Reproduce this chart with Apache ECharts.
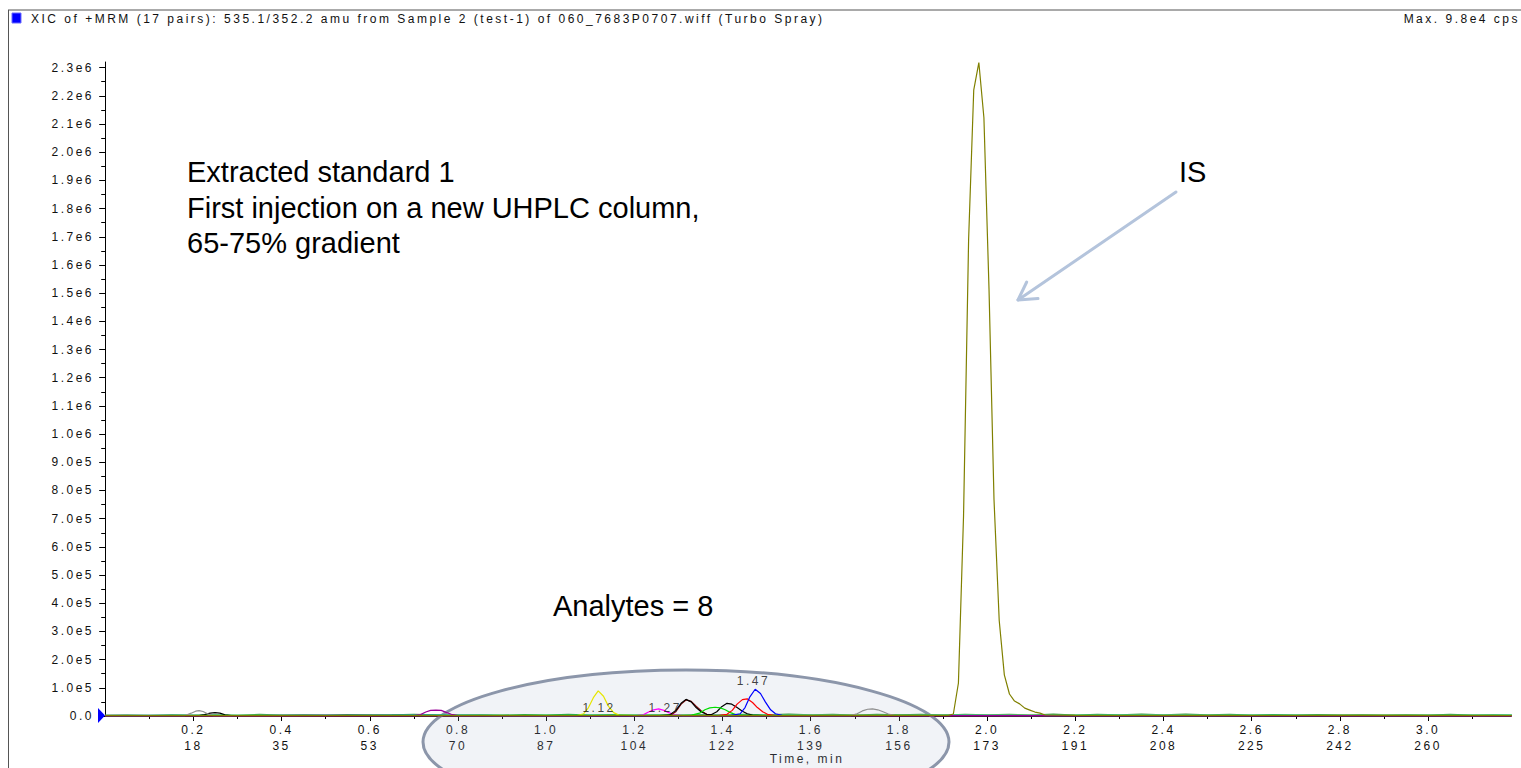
<!DOCTYPE html>
<html><head><meta charset="utf-8">
<script src="https://cdn.jsdelivr.net/npm/echarts@6/dist/echarts.min.js"></script>
<style>
html,body{margin:0;padding:0;background:#fff}
#chart{width:1521px;height:768px}
#chart text{letter-spacing:2.5px}
</style>
</head><body><div id="chart"></div>
<script>
// ---------- text ----------
const titleText = 'XIC of +MRM (17 pairs): 535.1/352.2 amu from Sample 2 (test-1) of 060_7683P0707.wiff (Turbo Spray)';
const maxText = 'Max. 9.8e4 cps';
const noteLines = ['Extracted standard 1', 'First injection on a new UHPLC column,', '65-75% gradient'];
const isText = 'IS';
const analytesText = 'Analytes = 8';
const xAxisName = 'Time, min';

// ---------- ticks ----------
const xTickTimes = [0.2,0.4,0.6,0.8,1.0,1.2,1.4,1.6,1.8,2.0,2.2,2.4,2.6,2.8,3.0];
const xScanLabels = ['18','35','53','70','87','104','122','139','156','173','191','208','225','242','260'];
const xMinorTimes = [0.1,0.3,0.5,0.7,0.9,1.1,1.3,1.5,1.7,1.9,2.1,2.3,2.5,2.7,2.9,3.1];
const yTickValues = [0,1e5,2e5,3e5,4e5,5e5,6e5,7e5,8e5,9e5,1e6,1.1e6,1.2e6,1.3e6,1.4e6,1.5e6,1.6e6,1.7e6,1.8e6,1.9e6,2.0e6,2.1e6,2.2e6,2.3e6];
const yMinorValues = [0.5e5,1.5e5,2.5e5,3.5e5,4.5e5,5.5e5,6.5e5,7.5e5,8.5e5,9.5e5,1.05e6,1.15e6,1.25e6,1.35e6,1.45e6,1.55e6,1.65e6,1.75e6,1.85e6,1.95e6,2.05e6,2.15e6,2.25e6];

// ---------- series data [time(min), intensity(cps)] ----------
const greenBase = [[0,3000],[0.05,4500],[0.1,2500],[0.15,5000],[0.2,3000],[0.25,4000],[0.3,2500],[0.35,5500],[0.4,3000],[0.45,4500],[0.5,2500],[0.55,5000],[0.6,3500],[0.65,4500],[0.7,6000],[0.75,4000],[0.8,3000],[0.85,4500],[0.9,3000],[0.95,5000],[1.0,3500],[1.05,6000],[1.1,3000],[1.15,5000],[1.2,3000],[1.25,4500],[1.3,3000],[1.35,5000],[1.4,4000],[1.45,6000],[1.5,4000],[1.55,6500],[1.6,4000],[1.65,5500],[1.7,3500],[1.75,6000],[1.8,4000],[1.85,5500],[1.9,3500],[1.95,6000],[2.0,4000],[2.05,5500],[2.1,3500],[2.15,6500],[2.2,3500],[2.25,5500],[2.3,4000],[2.35,7000],[2.4,4000],[2.45,6500],[2.5,4000],[2.55,5500],[2.6,3500],[2.65,5000],[2.7,3000],[2.75,5000],[2.8,3500],[2.85,4500],[2.9,3000],[2.95,4500],[3.0,3500],[3.05,6000],[3.1,3500],[3.15,4500],[3.19,3500]];
const cyanTrace = [[0,1500],[0.15,2500],[0.35,1000],[0.55,2000],[0.72,4500],[0.9,1500],[1.1,2000],[1.3,1000],[1.5,2500],[1.7,1500],[1.9,3000],[2.1,1500],[2.3,2500],[2.5,1500],[2.7,2500],[2.9,1500],[3.19,2000]];
const lightBlueTrace = [[0,2500],[0.1,3500],[0.25,2000],[0.4,3000],[0.6,2000],[0.8,2500],[1.0,1500],[1.2,2500],[1.4,2000],[1.6,3000],[1.8,2000],[2.0,3000],[2.2,2500],[2.4,3000],[2.6,2500],[2.8,2000],[3.0,2500],[3.19,2000]];
const navyTrace = [[0,500],[0.3,800],[0.6,400],[0.9,900],[1.2,500],[1.5,700],[1.8,400],[2.1,900],[2.3,1200],[2.5,600],[2.8,800],[3.19,500]];
const isTrace = [[0,1500],[0.3,1200],[0.6,2000],[0.9,1500],[1.2,1800],[1.5,1500],[1.8,2000],[1.9118,2500],[1.9234,7000],[1.9349,117000],[1.9465,710000],[1.958,1690000],[1.9696,2220000],[1.9812,2318000],[1.9927,2122000],[2.0043,1512000],[2.0156,767000],[2.0274,339000],[2.039,146000],[2.0506,78000],[2.0621,53000],[2.0737,43000],[2.0853,28000],[2.0968,21000],[2.1084,14000],[2.12,10000],[2.1313,3500],[2.2,2000],[2.5,1500],[2.8,2000],[3.19,1500]];
const yellowTrace = [[0,1000],[0.5,1500],[1.0,1000],[1.07,1500],[1.085,8000],[1.096,30000],[1.107,65000],[1.118,89000],[1.13,70000],[1.141,35000],[1.153,12000],[1.165,3000],[1.2,1000],[1.6,1200],[2.2,1000],[2.8,1200],[3.19,1000]];
const magentaTrace = [[0,500],[0.6,1000],[1.2,800],[1.22,4000],[1.232,14000],[1.244,22000],[1.255,25000],[1.267,20000],[1.278,12000],[1.29,5000],[1.31,1000],[1.9,800],[2.6,1000],[3.19,600]];
const blackTrace = [[0,800],[0.21,1000],[0.225,5000],[0.238,10000],[0.249,12000],[0.26,10000],[0.272,4000],[0.29,800],[0.8,1000],[1.25,800],[1.28,4000],[1.294,20000],[1.306,45000],[1.317,59000],[1.329,50000],[1.34,30000],[1.352,14000],[1.364,6000],[1.375,5000],[1.387,15000],[1.398,33000],[1.41,45000],[1.421,42000],[1.433,30000],[1.445,17000],[1.456,8000],[1.468,3000],[1.49,1000],[2.0,800],[2.6,1000],[3.19,800]];
const darkRedTrace = [[0,500],[1.28,1000],[1.294,15000],[1.306,42000],[1.317,57000],[1.329,52000],[1.34,35000],[1.352,18000],[1.364,6000],[1.38,1500],[3.19,500]];
const greenTrace = [[0,1500],[0.4,2000],[0.8,2500],[1.2,2000],[1.33,3000],[1.348,10000],[1.36,22000],[1.371,29000],[1.383,31000],[1.395,29000],[1.406,22000],[1.418,12000],[1.43,5000],[1.45,2500],[1.9,2000],[2.5,2500],[3.19,2000]];
const redTrace = [[0,1000],[0.7,1200],[1.39,1500],[1.41,6000],[1.422,20000],[1.433,42000],[1.445,58000],[1.456,61000],[1.468,48000],[1.479,30000],[1.491,15000],[1.502,6000],[1.52,1500],[2.3,1200],[3.19,1000]];
const blueTrace = [[0,1500],[0.5,2000],[1.0,1500],[1.42,2000],[1.44,8000],[1.451,30000],[1.462,68000],[1.474,95000],[1.486,80000],[1.497,50000],[1.509,22000],[1.52,8000],[1.535,2000],[2.2,1500],[3.19,1500]];
const grayTrace = [[0,800],[0.18,1000],[0.195,10000],[0.205,17000],[0.213,19000],[0.222,16000],[0.232,8000],[0.245,1000],[1.0,800],[1.69,1500],[1.705,8000],[1.717,18000],[1.729,24000],[1.74,25000],[1.752,22000],[1.764,15000],[1.776,7000],[1.79,2000],[2.5,1000],[3.19,800]];
const purpleTrace = [[0,1000],[0.7,1500],[0.715,5000],[0.727,14000],[0.738,20000],[0.75,21000],[0.762,20000],[0.773,13000],[0.785,6000],[0.8,1500],[1.5,1000],[3.19,1000]];
const peakLabelPoints = [[1.12,0],[1.27,0],[1.47,95000]];

const traces = [
  {name:'c1', color:'#3c963c', data:greenBase},
  {name:'c2', color:'#00c8c8', data:cyanTrace},
  {name:'c3', color:'#9cb4c8', data:lightBlueTrace},
  {name:'c4', color:'#000080', data:navyTrace},
  {name:'c5', color:'#e6e600', data:yellowTrace},
  {name:'c6', color:'#ff00ff', data:magentaTrace},
  {name:'c7', color:'#800000', data:darkRedTrace},
  {name:'c8', color:'#000000', data:blackTrace},
  {name:'c9', color:'#00dd00', data:greenTrace},
  {name:'c10', color:'#ff0000', data:redTrace},
  {name:'c11', color:'#0000ff', data:blueTrace},
  {name:'c12', color:'#909090', data:grayTrace},
  {name:'c13', color:'#990099', data:purpleTrace},
  {name:'IS', color:'#808000', data:isTrace}
];

const FONT = '"Liberation Sans", Arial, sans-serif';
function yFmt(v){
  if (v === 0) return '0.0';
  const e = Math.floor(Math.log10(v) + 1e-9);
  return (v / Math.pow(10, e)).toFixed(1) + 'e' + e;
}
function xFmt(v){
  const i = xTickTimes.findIndex(t => Math.abs(t - v) < 1e-6);
  return v.toFixed(1) + '\n' + (i >= 0 ? xScanLabels[i] : '');
}

const chart = echarts.init(document.getElementById('chart'), null, {renderer:'svg'});
const series = traces.map(t => ({
  name:t.name, type:'line', data:t.data, xAxisIndex:0, yAxisIndex:0,
  showSymbol:false, symbol:'none', lineStyle:{color:t.color, width:1.2}, itemStyle:{color:t.color},
  z:3, silent:true
}));
series.push({
  type:'scatter', data:peakLabelPoints, symbolSize:0, z:5,
  label:{show:true, position:'top', distance:2, formatter:p => p.value[0].toFixed(2),
    fontFamily:FONT, fontSize:12, color:'#111'}
});

// arrow geometry (annotation, pixel space)
const arrowTail = [1176,192], arrowTip = [1018,300];

const option = {
  animation:false,
  backgroundColor:'#fff',
  grid:{left:103, right:10, top:62, bottom:52, containLabel:false, outerBoundsMode:'none'},
  xAxis:[{
    type:'value', min:-0.005, max:3.188,
    axisLine:{lineStyle:{color:'#000', width:1}},
    axisTick:{customValues:xTickTimes, length:5, lineStyle:{color:'#000'}},
    axisLabel:{customValues:xTickTimes, formatter:xFmt, fontFamily:FONT, fontSize:12, color:'#111', margin:6, lineHeight:16},
    splitLine:{show:false},
    name:xAxisName, nameLocation:'middle', nameGap:43, nameMoveOverlap:false,
    nameTextStyle:{fontFamily:FONT, fontSize:12, color:'#111', verticalAlign:'middle'}
  },{
    type:'value', min:-0.005, max:3.188, position:'bottom',
    axisLine:{show:false},
    axisTick:{customValues:xMinorTimes, length:3, lineStyle:{color:'#000'}},
    axisLabel:{show:false}, splitLine:{show:false}
  }],
  yAxis:[{
    type:'value', min:0, max:2.32e6,
    axisLine:{show:true, lineStyle:{color:'#000', width:1}},
    axisTick:{show:true, customValues:yTickValues, length:6, lineStyle:{color:'#000'}},
    axisLabel:{customValues:yTickValues, formatter:yFmt, fontFamily:FONT, fontSize:12, color:'#111', margin:9},
    splitLine:{show:false}
  },{
    type:'value', min:0, max:2.32e6, position:'left',
    axisLine:{show:false},
    axisTick:{show:true, customValues:yMinorValues, length:4, lineStyle:{color:'#000'}},
    axisLabel:{show:false}, splitLine:{show:false}
  }],
  series:series,
  graphic:[
    {type:'ellipse', z:1, shape:{cx:686, cy:742, rx:263, ry:72},
      style:{fill:'rgba(165,180,205,0.16)', stroke:'#8c96aa', lineWidth:3}},
    {type:'line', shape:{x1:8, y1:10, x2:1521, y2:10}, style:{stroke:'#555', lineWidth:1}},
    {type:'line', shape:{x1:8.5, y1:10, x2:8.5, y2:768}, style:{stroke:'#555', lineWidth:1}},
    {type:'rect', shape:{x:12, y:13, width:9, height:10}, style:{fill:'#0000ff', stroke:'#6a6aff', lineWidth:1}},
    {type:'text', style:{x:31, y:19, text:titleText, font:'12px ' + FONT, fill:'#111', verticalAlign:'middle', align:'left'}},
    {type:'text', style:{x:1520, y:19, text:maxText, font:'12px ' + FONT, fill:'#111', verticalAlign:'middle', align:'right'}},
    {type:'polygon', z:10, shape:{points:[[98,708],[98,723],[105,715.5]]}, style:{fill:'#0000ff'}},
    {type:'text', style:{x:187, y:172, text:noteLines[0], font:'29px ' + FONT, fill:'#000', verticalAlign:'middle'}},
    {type:'text', style:{x:187, y:208, text:noteLines[1], font:'29px ' + FONT, fill:'#000', verticalAlign:'middle'}},
    {type:'text', style:{x:187, y:243, text:noteLines[2], font:'29px ' + FONT, fill:'#000', verticalAlign:'middle'}},
    {type:'text', style:{x:1179, y:172, text:isText, font:'29px ' + FONT, fill:'#000', verticalAlign:'middle'}},
    {type:'text', style:{x:553, y:606, text:analytesText, font:'29px ' + FONT, fill:'#000', verticalAlign:'middle'}},
    {type:'line', shape:{x1:arrowTail[0], y1:arrowTail[1], x2:arrowTip[0], y2:arrowTip[1]},
      style:{stroke:'#b4c4dc', lineWidth:3, lineCap:'round'}},
    {type:'polyline', shape:{points:[[1038,298.5],[arrowTip[0],arrowTip[1]],[1026.7,282]]},
      style:{stroke:'#b4c4dc', lineWidth:3, lineCap:'round', lineJoin:'round', fill:null}}
  ]
};
chart.setOption(option);

function applySpacing(){
  document.querySelectorAll('#chart svg text').forEach(t => {
    const fs = parseFloat(getComputedStyle(t).fontSize);
    t.style.letterSpacing = fs > 16 ? '0px' : '2.5px';
  });
}
chart.on('finished', applySpacing);
setTimeout(applySpacing, 30);
setTimeout(applySpacing, 200);
</script>
</body></html>
